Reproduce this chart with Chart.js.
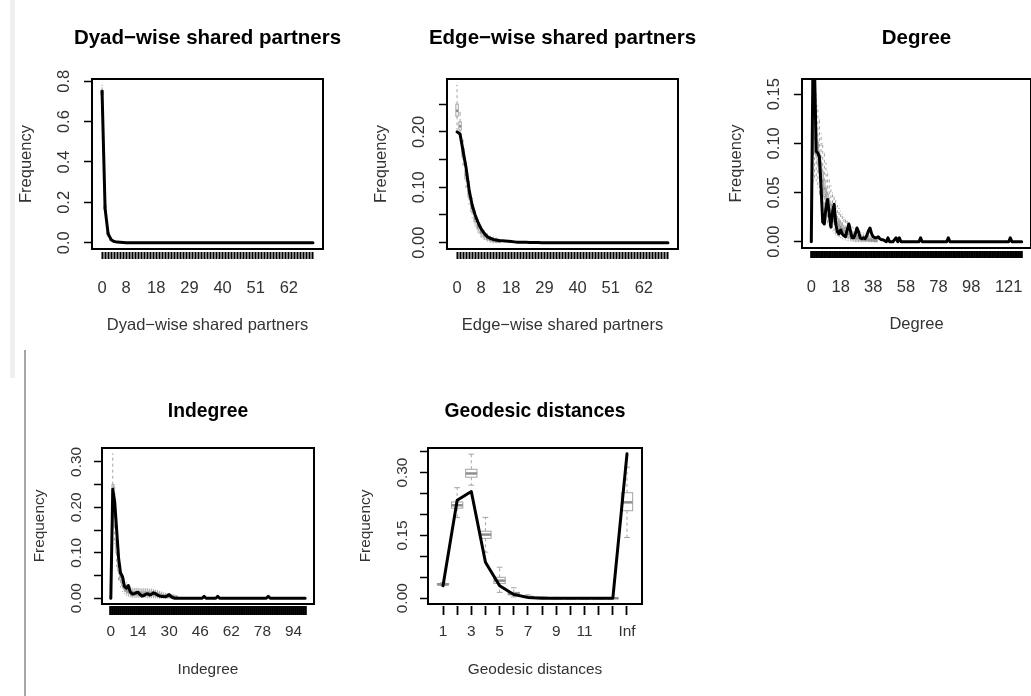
<!DOCTYPE html>
<html>
<head>
<meta charset="utf-8">
<title>Goodness-of-fit diagnostics</title>
<script src="https://cdn.jsdelivr.net/npm/chart.js@4.4.1/dist/chart.umd.min.js"></script>
<style>
  html, body { margin: 0; padding: 0; background: #fff; }
  body { width: 1031px; height: 696px; overflow: hidden; position: relative; }
  canvas { position: absolute; }
  .edge { position: absolute; }
</style>
</head>
<body>
<div class="edge" style="left:10px;top:0;width:5px;height:378px;background:#efefef"></div>
<div class="edge" style="left:24px;top:350px;width:2px;height:346px;background:#a6a6a6"></div>

<script>
// observed statistics (black line), one value per category
const dspObs = [
    0.75, 0.17, 0.045, 0.015, 0.006, 0.003, 0.002, 0.001, 0, 0,
    0, 0, 0, 0, 0, 0, 0, 0, 0, 0,
    0, 0, 0, 0, 0, 0, 0, 0, 0, 0,
    0, 0, 0, 0, 0, 0, 0, 0, 0, 0,
    0, 0, 0, 0, 0, 0, 0, 0, 0, 0,
    0, 0, 0, 0, 0, 0, 0, 0, 0, 0,
    0, 0, 0, 0, 0, 0, 0, 0, 0, 0,
    0
];
const espObs = [
    0.200, 0.196, 0.165, 0.135, 0.095, 0.068, 0.050, 0.036, 0.025, 0.017,
    0.011, 0.008, 0.006, 0.005, 0.004, 0.0035, 0.003, 0.0025, 0.002, 0.0015,
    0.001, 0.001, 0.0008, 0.0006, 0.0005, 0.0004, 0.0003, 0.0002, 0.0001, 0,
    0, 0, 0, 0, 0, 0, 0, 0, 0, 0,
    0, 0, 0, 0, 0, 0, 0, 0, 0, 0,
    0, 0, 0, 0, 0, 0, 0, 0, 0, 0,
    0, 0, 0, 0, 0, 0, 0, 0, 0, 0,
    0
];
const degObs = [
    0, 0.18, 0.175, 0.092, 0.090, 0.086, 0.055, 0.020, 0.018, 0.035,
    0.043, 0.028, 0.015, 0.030, 0.038, 0.018, 0.010, 0.008, 0.012, 0.008,
    0.006, 0.005, 0.012, 0.018, 0.011, 0.004, 0.004, 0.008, 0.014, 0.010,
    0.004, 0.003, 0.004, 0.003, 0.006, 0.011, 0.014, 0.008, 0.005, 0.004,
    0.004, 0.005, 0.003, 0.002, 0.002, 0.001, 0, 0.004, 0, 0,
    0, 0.002, 0.004, 0, 0.004, 0, 0, 0, 0, 0,
    0, 0, 0, 0, 0, 0, 0, 0.004, 0, 0,
    0, 0, 0, 0, 0, 0, 0, 0, 0, 0,
    0, 0, 0, 0, 0.004, 0, 0, 0, 0, 0,
    0, 0, 0, 0, 0, 0, 0, 0, 0, 0,
    0, 0, 0, 0, 0, 0, 0, 0, 0, 0,
    0, 0, 0, 0, 0, 0, 0, 0, 0, 0,
    0, 0, 0.004, 0, 0, 0, 0, 0, 0, 0
];
const indegObs = [
    0, 0.24, 0.212, 0.15, 0.088, 0.055, 0.048, 0.026, 0.022, 0.028,
    0.014, 0.009, 0.010, 0.012, 0.013, 0.008, 0.005, 0.006, 0.009, 0.010,
    0.007, 0.009, 0.012, 0.010, 0.007, 0.005, 0.004, 0.004, 0.003, 0.005,
    0.008, 0.004, 0.001, 0, 0, 0, 0, 0, 0, 0,
    0, 0, 0, 0, 0, 0, 0, 0, 0.004, 0,
    0, 0, 0, 0, 0, 0.004, 0, 0, 0, 0,
    0, 0, 0, 0, 0, 0, 0, 0, 0, 0,
    0, 0, 0, 0, 0, 0, 0, 0, 0, 0,
    0, 0.004, 0, 0, 0, 0, 0, 0, 0, 0,
    0, 0, 0, 0, 0, 0, 0, 0, 0, 0,
    0
];
const geoLabels = ['1', '2', '3', '4', '5', '6', '7', '8', '9', '10', '11', '12', '13', 'Inf'];
const geoObs = [0.03, 0.234, 0.255, 0.086, 0.03, 0.009, 0.002, 0, 0, 0, 0, 0, 0, 0.345];

// simulated boxplots (grey): whisker low, q1, median, q3, whisker high
const dspLo  = [0.72, 0.15, 0.03, 0.008, 0.002];
const dspQ1  = [0.735, 0.165, 0.04, 0.012, 0.004];
const dspMed = [0.745, 0.175, 0.045, 0.015, 0.005];
const dspQ3  = [0.755, 0.185, 0.05, 0.018, 0.007];
const dspHi  = [0.78, 0.2, 0.06, 0.025, 0.01];

const espLo  = [0.205, 0.19, 0.14, 0.10, 0.07, 0.045, 0.03, 0.018, 0.01, 0.006, 0.003, 0.001, 0, 0, 0];
const espQ1  = [0.228, 0.203, 0.155, 0.115, 0.082, 0.056, 0.038, 0.025, 0.016, 0.01, 0.006, 0.004, 0.002, 0.001, 0.001];
const espMed = [0.238, 0.21, 0.162, 0.122, 0.088, 0.062, 0.043, 0.029, 0.019, 0.013, 0.008, 0.006, 0.004, 0.003, 0.002];
const espQ3  = [0.25, 0.218, 0.17, 0.13, 0.095, 0.068, 0.048, 0.033, 0.022, 0.016, 0.011, 0.008, 0.006, 0.004, 0.003];
const espHi  = [0.284, 0.235, 0.185, 0.145, 0.11, 0.08, 0.058, 0.042, 0.03, 0.022, 0.016, 0.012, 0.01, 0.008, 0.006];

const degLo  = [0, 0.06, 0.065, 0.062, 0.055, 0.048, 0.04, 0.034, 0.028, 0.023, 0.019, 0.016, 0.013, 0.011, 0.009, 0.007, 0.006, 0.005, 0.004, 0.003, 0.002,
                0.002, 0.001, 0.001, 0.001, 0.0005, 0.0005, 0, 0, 0, 0, 0, 0, 0, 0, 0, 0, 0, 0, 0, 0];
const degQ1  = [0, 0.088, 0.092, 0.088, 0.079, 0.07, 0.061, 0.053, 0.046, 0.04, 0.034, 0.03, 0.026, 0.023, 0.02, 0.017, 0.015, 0.013, 0.011, 0.0095, 0.008,
                0.007, 0.006, 0.0055, 0.0045, 0.004, 0.0035, 0.003, 0.0025, 0.002, 0.002, 0.0015, 0.0015, 0.001, 0.001, 0.001, 0.0005, 0.0005, 0.0005, 0, 0];
const degMed = [0, 0.1, 0.105, 0.1, 0.09, 0.08, 0.07, 0.062, 0.054, 0.047, 0.041, 0.036, 0.032, 0.028, 0.025, 0.022, 0.019, 0.017, 0.015, 0.013, 0.011,
                0.01, 0.009, 0.008, 0.007, 0.006, 0.0055, 0.005, 0.0045, 0.004, 0.0035, 0.003, 0.003, 0.0025, 0.0025, 0.002, 0.002, 0.0015, 0.0015, 0.001, 0.001];
const degQ3  = [0.001, 0.113, 0.118, 0.112, 0.101, 0.09, 0.079, 0.071, 0.062, 0.054, 0.048, 0.042, 0.038, 0.033, 0.03, 0.027, 0.023, 0.021, 0.019, 0.017, 0.014,
                0.013, 0.012, 0.011, 0.0095, 0.008, 0.0075, 0.007, 0.0065, 0.006, 0.005, 0.0045, 0.0045, 0.004, 0.004, 0.0035, 0.003, 0.0025, 0.0025, 0.002, 0.002];
const degHi  = [0.004, 0.145, 0.159, 0.15, 0.138, 0.124, 0.11, 0.1, 0.09, 0.08, 0.071, 0.063, 0.057, 0.05, 0.046, 0.042, 0.037, 0.034, 0.031, 0.028, 0.025,
                0.023, 0.021, 0.019, 0.017, 0.015, 0.014, 0.013, 0.012, 0.011, 0.01, 0.009, 0.009, 0.008, 0.008, 0.007, 0.006, 0.006, 0.005, 0.005, 0.004];

const indLo  = [0, 0.15, 0.12, 0.07, 0.04, 0.025, 0.015, 0.01, 0.006, 0.004, 0.003, 0.002, 0.002, 0.002, 0.002, 0.002, 0.002, 0.002,
                0.002, 0.001, 0.001, 0.001, 0.001, 0.001, 0.001, 0, 0, 0, 0, 0, 0, 0, 0, 0, 0];
const indQ1  = [0, 0.2, 0.16, 0.1, 0.06, 0.04, 0.028, 0.02, 0.015, 0.012, 0.01, 0.008, 0.007, 0.007, 0.007, 0.007, 0.007, 0.006,
                0.006, 0.006, 0.006, 0.006, 0.006, 0.005, 0.005, 0.004, 0.003, 0.003, 0.002, 0.002, 0.002, 0.001, 0.001, 0.001, 0.001];
const indMed = [0, 0.225, 0.18, 0.115, 0.07, 0.047, 0.034, 0.025, 0.019, 0.016, 0.014, 0.012, 0.011, 0.011, 0.011, 0.01, 0.01, 0.01,
                0.01, 0.01, 0.01, 0.01, 0.01, 0.009, 0.009, 0.007, 0.006, 0.005, 0.005, 0.004, 0.004, 0.003, 0.003, 0.002, 0.002];
const indQ3  = [0.002, 0.25, 0.2, 0.13, 0.08, 0.055, 0.04, 0.03, 0.024, 0.02, 0.017, 0.015, 0.015, 0.015, 0.015, 0.014, 0.014, 0.014,
                0.014, 0.014, 0.014, 0.014, 0.013, 0.012, 0.012, 0.01, 0.009, 0.008, 0.007, 0.006, 0.006, 0.005, 0.005, 0.004, 0.004];
const indHi  = [0.005, 0.318, 0.25, 0.17, 0.11, 0.075, 0.055, 0.042, 0.034, 0.029, 0.025, 0.022, 0.022, 0.022, 0.022, 0.021, 0.021, 0.021,
                0.021, 0.021, 0.02, 0.02, 0.019, 0.018, 0.017, 0.015, 0.014, 0.012, 0.011, 0.01, 0.009, 0.008, 0.008, 0.007, 0.006];

const geoLo  = [0.03, 0.193, 0.27, 0.11, 0.014, 0.003, 0, 0, 0, 0, 0, 0, 0, 0.145];
const geoQ1  = [0.032, 0.215, 0.289, 0.143, 0.035, 0.008, 0.002, 0.0005, 0, 0, 0, 0, 0, 0.209];
const geoMed = [0.033, 0.222, 0.298, 0.152, 0.042, 0.011, 0.003, 0.001, 0, 0, 0, 0, 0, 0.229];
const geoQ3  = [0.035, 0.23, 0.308, 0.16, 0.05, 0.014, 0.004, 0.0015, 0.001, 0, 0, 0, 0, 0.252];
const geoHi  = [0.037, 0.264, 0.344, 0.193, 0.074, 0.025, 0.008, 0.003, 0.002, 0.001, 0, 0, 0, 0.313];

// tick values and the labels R kept
const sharedShown = ['0', '8', '18', '29', '40', '51', '62'];
const degShown = ['0', '18', '38', '58', '78', '98', '121'];
const indShown = ['0', '14', '30', '46', '62', '78', '94'];
const geoShown = ['1', '3', '5', '7', '9', '11', 'Inf'];

const dspYTicks = [0, 0.2, 0.4, 0.6, 0.8];
const dspYLabels = ['0.0', '0.2', '0.4', '0.6', '0.8'];
const espYTicks = [0, 0.05, 0.1, 0.15, 0.2, 0.25];
const espYLabels = ['0.00', '', '0.10', '', '0.20', ''];
const degYTicks = [0, 0.05, 0.1, 0.15];
const degYLabels = ['0.00', '0.05', '0.10', '0.15'];
const indYTicks = [0, 0.05, 0.1, 0.15, 0.2, 0.25, 0.3];
const indYLabels = ['0.00', '', '0.10', '', '0.20', '', '0.30'];
const geoYTicks = [0, 0.05, 0.1, 0.15, 0.2, 0.25, 0.3, 0.35];
const geoYLabels = ['0.00', '', '', '0.15', '', '', '0.30', ''];

Chart.defaults.font.family = '"Liberation Sans", Arial, sans-serif';
const textColor = '#333';

// the two rows of the original figure were rendered at slightly different scales
const rowTop = { title: 20.5, label: 16.5, titleGap: 41, freqGap: 66, yLabGap: 28, tickGap: 3, tickLen: 7, xLabGap: 39, xTitleGap: 76 };
const rowBottom = { title: 19.3, label: 15.4, titleGap: 36, freqGap: 62, yLabGap: 25, tickGap: 2, tickLen: 9, xLabGap: 28, xTitleGap: 66 };

const panels = [
    { box: [92, 79, 323, 249], row: rowTop, title: 'Dyad\u2212wise shared partners', values: dspObs, start: 0,
      shown: sharedShown, yTicks: dspYTicks, yLabels: dspYLabels, yTop: 0.78,
      stats: [dspLo, dspQ1, dspMed, dspQ3, dspHi], tickW: 2 },
    { box: [447, 79, 678, 249], row: rowTop, title: 'Edge\u2212wise shared partners', values: espObs, start: 0,
      shown: sharedShown, yTicks: espYTicks, yLabels: espYLabels, yTop: 0.284,
      stats: [espLo, espQ1, espMed, espQ3, espHi], tickW: 2 },
    { box: [802, 79, 1031, 248], row: rowTop, title: 'Degree', values: degObs, start: 0,
      shown: degShown, yTicks: degYTicks, yLabels: degYLabels, yTop: 0.159,
      stats: [degLo, degQ1, degMed, degQ3, degHi], tickW: 2.6 },
    { box: [102, 448, 314, 604], row: rowBottom, title: 'Indegree', values: indegObs, start: 0,
      shown: indShown, yTicks: indYTicks, yLabels: indYLabels, yTop: 0.318,
      stats: [indLo, indQ1, indMed, indQ3, indHi], tickW: 2.6 },
    { box: [428, 448, 642, 604], row: rowBottom, title: 'Geodesic distances', values: geoObs, start: 1,
      labels: geoLabels, shown: geoShown, yTicks: geoYTicks, yLabels: geoYLabels, yTop: 0.345,
      stats: [geoLo, geoQ1, geoMed, geoQ3, geoHi], tickW: 1.8 }
];

const measureCtx = document.createElement('canvas').getContext('2d');

function boxPlugin(stats, start) {
    const [lo, q1, med, q3, hi] = stats;
    return {
        id: 'simBoxes',
        beforeDatasetsDraw(chart) {
            const { ctx, chartArea: a, scales: { x, y } } = chart;
            const unit = x.getPixelForValue(1) - x.getPixelForValue(0);
            const half = Math.max(unit * 0.4, 0.6);
            ctx.save();
            ctx.beginPath();
            ctx.rect(a.left, a.top, a.right - a.left, a.bottom - a.top);
            ctx.clip();
            ctx.strokeStyle = '#a3a3a3';
            med.forEach((m, i) => {
                const cx = x.getPixelForValue(start + i);
                const yq1 = y.getPixelForValue(q1[i]), yq3 = y.getPixelForValue(q3[i]);
                const ylo = y.getPixelForValue(lo[i]), yhi = y.getPixelForValue(hi[i]);
                // whiskers
                ctx.lineWidth = 1;
                ctx.setLineDash([3, 3]);
                ctx.beginPath();
                ctx.moveTo(cx, yq3); ctx.lineTo(cx, yhi);
                ctx.moveTo(cx, yq1); ctx.lineTo(cx, ylo);
                ctx.stroke();
                ctx.setLineDash([]);
                ctx.beginPath();
                ctx.moveTo(cx - half / 2, yhi); ctx.lineTo(cx + half / 2, yhi);
                ctx.moveTo(cx - half / 2, ylo); ctx.lineTo(cx + half / 2, ylo);
                ctx.stroke();
                // box and median
                ctx.fillStyle = '#fff';
                ctx.fillRect(cx - half, yq3, half * 2, yq1 - yq3);
                ctx.strokeRect(cx - half, yq3, half * 2, yq1 - yq3);
                ctx.lineWidth = 2.5;
                ctx.strokeStyle = '#8f8f8f';
                ctx.beginPath();
                ctx.moveTo(cx - half, y.getPixelForValue(m)); ctx.lineTo(cx + half, y.getPixelForValue(m));
                ctx.stroke();
                ctx.strokeStyle = '#a3a3a3';
            });
            ctx.restore();
        }
    };
}

const framePlugin = {
    id: 'frame',
    afterDatasetsDraw(chart) {
        const { ctx, chartArea: a } = chart;
        ctx.save();
        ctx.strokeStyle = '#000';
        ctx.lineWidth = 2;
        ctx.strokeRect(a.left, a.top, a.right - a.left, a.bottom - a.top);
        ctx.restore();
    }
};

panels.forEach(p => {
    const r = p.row;
    const [L, T, R, B] = p.box;
    const side = 110;
    const lhT = r.title * 1.2, lhL = r.label * 1.2;
    const titleY = T - r.titleGap;
    const top = Math.floor(titleY - lhT / 2 - 2);
    const titlePadTop = titleY - lhT / 2 - top;
    const titlePadBottom = T - top - titlePadTop - lhT;
    const xH = Math.ceil(r.xTitleGap + lhL / 2 + 4);
    const xTitlePad = xH - r.xTitleGap - lhL / 2;
    const tl = r.tickGap + r.tickLen;
    const xPad = r.xLabGap - tl - lhL / 2;

    measureCtx.font = r.label + 'px "Liberation Sans", Arial, sans-serif';
    const widest = Math.max(...p.yLabels.map(s => measureCtx.measureText(s).width));
    const yPad = r.yLabGap - 8 - widest / 2;

    const n = p.values.length;
    const labelOf = i => p.labels ? p.labels[i] : String(i);

    const canvas = document.createElement('canvas');
    canvas.width = side * 2 + (R - L);
    canvas.height = (B - top) + xH;
    canvas.style.left = (L - side) + 'px';
    canvas.style.top = top + 'px';
    document.body.appendChild(canvas);

    new Chart(canvas, {
        type: 'line',
        data: {
            datasets: [{
                data: p.values.map((v, i) => ({ x: p.start + i, y: v })),
                borderColor: '#000',
                borderWidth: 3,
                pointRadius: 0,
                tension: 0,
                borderJoinStyle: 'round',
                borderCapStyle: 'round',
                clip: 0
            }]
        },
        options: {
            responsive: false,
            animation: false,
            events: [],
            layout: { padding: 0 },
            plugins: {
                legend: { display: false },
                tooltip: { enabled: false },
                title: {
                    display: true,
                    text: p.title,
                    color: '#000',
                    font: { size: r.title, weight: 'bold' },
                    padding: { top: titlePadTop, bottom: titlePadBottom }
                }
            },
            scales: {
                x: {
                    type: 'linear',
                    bounds: 'data',
                    // R pads the boxplot range by 4 %
                    min: p.start - 0.5 - 0.04 * n,
                    max: p.start + n - 0.5 + 0.04 * n,
                    afterBuildTicks: s => { s.ticks = p.values.map((v, i) => ({ value: p.start + i })); },
                    afterFit: s => { s.height = xH; s.paddingLeft = 0; s.paddingRight = 0; },
                    ticks: {
                        autoSkip: false,
                        minRotation: 0,
                        maxRotation: 0,
                        padding: xPad,
                        color: textColor,
                        font: { size: r.label },
                        callback: (v, i) => p.shown.includes(labelOf(i)) ? labelOf(i) : ''
                    },
                    grid: {
                        drawOnChartArea: false,
                        tickLength: tl,
                        tickBorderDash: [0, r.tickGap, r.tickLen, 100],
                        tickColor: '#000',
                        tickWidth: p.tickW
                    },
                    border: { display: false },
                    title: {
                        display: true,
                        text: p.title,
                        color: textColor,
                        font: { size: r.label },
                        padding: { top: 0, bottom: xTitlePad }
                    }
                },
                y: {
                    type: 'linear',
                    bounds: 'data',
                    min: -0.04 * p.yTop,
                    max: 1.04 * p.yTop,
                    afterBuildTicks: s => { s.ticks = p.yTicks.map(v => ({ value: v })); },
                    afterFit: s => { s.width = side; s.paddingTop = 0; s.paddingBottom = 0; },
                    ticks: {
                        autoSkip: false,
                        minRotation: 90,
                        maxRotation: 90,
                        crossAlign: 'center',
                        padding: yPad,
                        color: textColor,
                        font: { size: r.label },
                        callback: (v, i) => p.yLabels[i]
                    },
                    grid: {
                        drawOnChartArea: false,
                        tickLength: 8,
                        tickColor: '#000',
                        tickWidth: 1.5
                    },
                    border: { display: false },
                    title: {
                        display: true,
                        text: 'Frequency',
                        color: textColor,
                        font: { size: r.label },
                        padding: { top: side - r.freqGap - lhL / 2, bottom: 0 }
                    }
                },
                // empty right-hand axis so the title centres over the plot box
                spacer: {
                    type: 'linear',
                    position: 'right',
                    afterFit: s => { s.width = side; s.paddingTop = 0; s.paddingBottom = 0; },
                    ticks: { display: false },
                    grid: { display: false },
                    border: { display: false }
                }
            }
        },
        plugins: [boxPlugin(p.stats, p.start), framePlugin]
    });
});
</script>
</body>
</html>
